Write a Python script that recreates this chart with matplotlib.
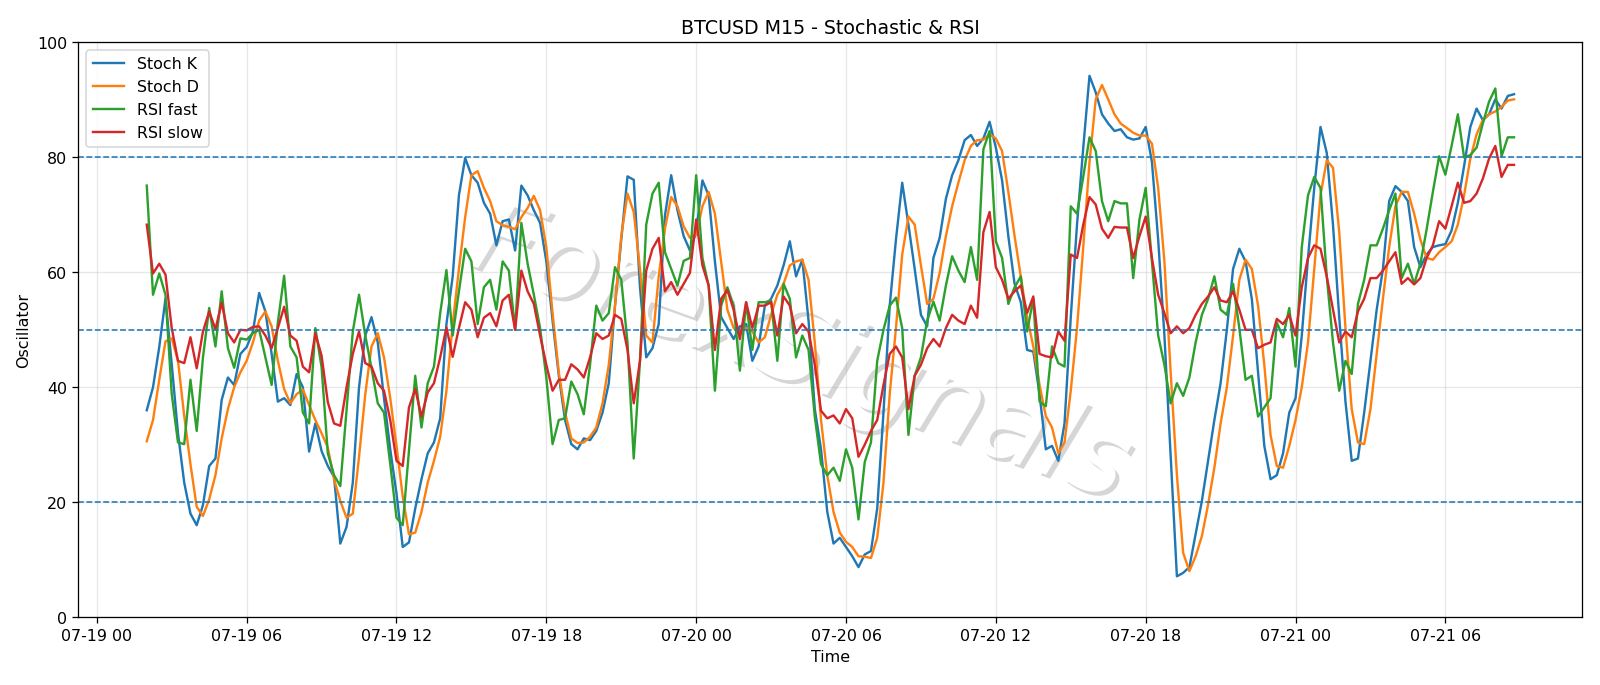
"""
BTCUSD M15 oscillators: Stochastic K/D and fast/slow RSI with watermark.
"""

import numpy as np
import pandas as pd
import matplotlib
matplotlib.use('Agg')
import matplotlib.pyplot as plt
import matplotlib.dates as mdates
import matplotlib.patheffects as pe

# ---------------------------------------------------------------------------
# Data (15 min bars, 07-19 02:00 -> 07-21 08:45)
# ---------------------------------------------------------------------------

START = '2024-07-19 02:00'
N_BARS = 220

STOCH_K = [
    36.0, 40.0, 47.0, 55.4, 44.0, 32.0, 23.4, 18.0, 16.0, 19.5,
    26.3, 27.6, 37.8, 41.7, 40.4, 45.8, 47.0, 49.7, 56.4, 53.2,
    45.8, 37.5, 38.1, 36.9, 42.3, 40.0, 28.8, 33.7, 28.9, 26.3,
    24.4, 12.8, 15.7, 23.4, 40.0, 49.0, 52.2, 47.8, 38.1, 29.2,
    21.5, 12.2, 13.0, 18.9, 24.0, 28.5, 30.4, 34.6, 51.0, 59.3,
    73.4, 79.9, 76.9, 75.6, 72.1, 70.2, 64.7, 68.9, 69.2, 63.8,
    75.1, 73.4, 70.8, 68.6, 61.9, 51.6, 42.0, 34.3, 30.1, 29.2,
    31.1, 30.8, 32.4, 35.6, 40.7, 54.2, 65.7, 76.7, 76.1, 57.4,
    45.2, 46.8, 51.0, 69.9, 76.9, 70.8, 66.3, 63.8, 67.0, 76.0,
    73.4, 61.9, 52.2, 50.3, 48.4, 50.6, 51.0, 44.6, 47.1, 54.2,
    55.4, 57.7, 61.2, 65.4, 59.3, 62.2, 51.6, 36.2, 29.2, 18.3,
    12.8, 13.8, 12.2, 10.6, 8.7, 10.9, 11.5, 18.9, 35.6, 54.2,
    65.7, 75.6, 68.3, 60.6, 52.6, 50.6, 62.5, 66.0, 72.8, 76.9,
    79.5, 83.0, 83.9, 82.0, 83.3, 86.2, 81.7, 76.0, 66.3, 58.0,
    54.8, 46.5, 46.2, 38.8, 29.2, 29.8, 27.2, 33.7, 52.2, 68.3,
    81.7, 94.2, 91.3, 87.5, 85.9, 84.6, 84.9, 83.5, 83.1, 83.3,
    85.3, 79.2, 65.7, 49.0, 27.9, 7.1, 7.7, 8.7, 14.4, 20.2,
    27.2, 34.3, 40.7, 50.0, 60.6, 64.1, 61.9, 55.4, 42.6, 29.8,
    24.0, 24.7, 28.5, 35.6, 38.1, 49.0, 62.5, 74.7, 85.3, 80.8,
    68.3, 52.2, 37.5, 27.2, 27.6, 35.6, 44.6, 53.5, 60.6, 72.4,
    75.0, 74.0, 72.4, 64.4, 60.9, 63.1, 64.4, 64.7, 64.9, 67.3,
    72.1, 78.5, 85.3, 88.5, 86.5, 87.5, 90.1, 88.5, 90.7, 91.0,
]

STOCH_D = [
    30.6, 34.3, 41.3, 48.0, 48.5, 44.6, 35.0, 26.6, 19.2, 17.6,
    20.5, 24.7, 31.1, 36.2, 40.0, 42.6, 44.6, 47.8, 51.6, 53.2,
    50.6, 44.6, 39.7, 37.2, 38.8, 39.6, 36.9, 34.3, 32.0, 29.5,
    24.0, 20.2, 17.3, 18.0, 27.9, 38.8, 47.1, 49.4, 45.2, 38.1,
    29.8, 21.0, 14.4, 14.7, 18.3, 23.4, 27.2, 31.4, 39.4, 51.0,
    60.6, 69.6, 76.9, 77.6, 74.7, 72.4, 68.9, 68.2, 67.9, 67.5,
    69.6, 71.2, 73.3, 70.8, 64.4, 52.9, 42.6, 35.6, 31.1, 30.3,
    30.4, 31.4, 33.0, 37.2, 43.9, 54.2, 66.3, 73.7, 70.5, 60.6,
    49.0, 47.8, 59.3, 67.6, 73.1, 71.5, 68.0, 66.0, 66.5, 71.5,
    74.0, 70.2, 61.9, 53.5, 50.3, 49.7, 50.3, 49.7, 47.8, 48.7,
    52.6, 56.1, 58.0, 61.2, 61.9, 62.2, 58.7, 47.8, 34.3, 24.7,
    18.3, 14.7, 13.1, 12.2, 10.6, 10.5, 10.3, 13.8, 23.4, 38.8,
    50.3, 63.1, 69.7, 68.3, 61.2, 54.5, 55.4, 59.9, 66.3, 71.5,
    75.6, 79.5, 82.0, 83.0, 83.1, 84.0, 83.3, 81.1, 74.0, 66.3,
    59.3, 52.2, 47.1, 40.4, 35.0, 33.0, 28.5, 30.4, 39.4, 50.3,
    64.4, 79.2, 90.1, 92.6, 90.1, 87.5, 85.9, 85.1, 84.3, 83.8,
    83.8, 82.4, 74.7, 61.9, 42.6, 24.7, 11.2, 8.0, 10.6, 14.1,
    19.6, 26.0, 33.7, 40.0, 49.0, 58.7, 62.2, 60.6, 54.2, 43.9,
    31.7, 26.3, 26.0, 29.8, 34.3, 40.0, 47.8, 60.6, 73.4, 79.5,
    78.2, 67.0, 50.3, 36.2, 30.4, 30.1, 36.2, 45.8, 55.4, 64.4,
    71.5, 74.0, 74.0, 70.2, 65.7, 62.5, 62.2, 63.5, 64.4, 65.4,
    68.3, 73.4, 79.8, 84.0, 86.5, 87.5, 88.0, 88.8, 89.9, 90.1,
]

RSI_FAST = [
    75.1, 56.1, 59.8, 56.1, 38.8, 30.4, 30.1, 41.3, 32.4, 45.2,
    53.8, 47.1, 56.7, 46.8, 43.4, 48.5, 48.3, 49.4, 50.0, 45.2,
    40.4, 51.3, 59.4, 47.1, 45.2, 35.6, 33.7, 50.3, 43.5, 28.5,
    24.7, 22.8, 36.0, 49.7, 56.1, 49.0, 43.3, 37.2, 35.6, 26.6,
    17.3, 16.0, 29.0, 42.0, 33.0, 40.7, 43.6, 52.9, 60.4, 49.0,
    56.7, 64.1, 61.9, 51.0, 57.4, 58.7, 53.5, 61.9, 60.3, 50.0,
    68.6, 61.5, 56.1, 50.3, 41.7, 30.1, 34.3, 34.6, 41.0, 38.8,
    35.3, 43.9, 54.2, 51.6, 52.9, 60.9, 58.7, 47.8, 27.6, 44.6,
    68.3, 73.7, 75.6, 63.5, 60.6, 57.7, 62.0, 62.5, 76.9, 62.5,
    57.7, 39.4, 54.2, 57.4, 54.2, 42.9, 54.8, 46.5, 54.8, 54.8,
    55.1, 44.6, 58.0, 55.4, 45.2, 49.0, 46.5, 34.9, 26.6, 24.7,
    26.0, 23.7, 29.2, 26.0, 17.0, 27.0, 30.4, 44.6, 50.0, 54.2,
    55.6, 50.3, 31.7, 42.0, 45.2, 51.6, 54.9, 51.6, 57.7, 62.8,
    60.3, 58.3, 64.4, 58.7, 81.4, 84.6, 65.4, 62.5, 54.5, 57.4,
    59.3, 49.7, 55.4, 37.5, 36.7, 47.1, 44.2, 43.6, 71.5, 70.2,
    76.6, 83.5, 81.1, 72.4, 68.9, 72.4, 72.0, 72.0, 59.0, 69.2,
    74.7, 61.9, 49.0, 43.9, 37.2, 40.7, 38.5, 41.7, 47.8, 52.6,
    55.4, 59.3, 53.5, 52.6, 58.0, 50.3, 41.3, 42.0, 34.9, 36.5,
    38.1, 51.3, 48.7, 53.8, 43.6, 64.4, 73.4, 76.6, 74.7, 59.3,
    47.8, 39.4, 44.6, 42.3, 54.5, 58.7, 64.7, 64.7, 67.6, 70.8,
    73.7, 59.0, 61.5, 58.0, 61.5, 67.5, 74.0, 80.2, 77.0, 82.0,
    87.5, 80.0, 80.4, 81.7, 85.9, 89.7, 92.0, 80.2, 83.5, 83.5,
]

RSI_SLOW = [
    68.3, 59.8, 61.5, 59.6, 50.3, 44.6, 44.2, 48.7, 43.3, 49.7,
    53.2, 50.1, 54.7, 49.4, 47.8, 50.0, 49.9, 50.5, 50.6, 49.0,
    46.8, 50.3, 54.0, 49.0, 48.1, 43.6, 42.6, 49.4, 45.5, 37.4,
    33.7, 33.3, 40.0, 45.8, 49.7, 44.2, 43.6, 40.7, 39.4, 34.3,
    27.2, 26.3, 36.5, 39.7, 34.9, 39.1, 40.7, 45.2, 50.4, 45.3,
    50.3, 54.8, 53.5, 48.7, 52.1, 52.9, 50.6, 55.1, 56.1, 50.0,
    60.3, 56.7, 54.5, 49.0, 43.9, 39.4, 41.3, 41.3, 44.0, 43.1,
    41.7, 45.2, 49.4, 48.4, 49.0, 52.6, 51.9, 46.5, 37.2, 44.6,
    60.3, 64.1, 66.0, 56.7, 58.3, 56.1, 58.0, 59.9, 69.2, 61.2,
    57.7, 46.5, 55.4, 56.9, 53.5, 48.4, 54.8, 50.3, 54.2, 54.2,
    54.8, 49.0, 55.8, 54.2, 49.4, 51.0, 49.7, 43.9, 35.9, 34.6,
    35.1, 33.7, 36.2, 34.6, 27.9, 30.0, 32.4, 34.3, 40.4, 45.8,
    47.1, 45.2, 36.2, 42.0, 43.9, 46.8, 48.4, 47.1, 50.3, 52.6,
    51.6, 51.0, 54.2, 52.1, 67.0, 70.5, 60.9, 58.7, 55.4, 56.7,
    57.7, 52.9, 55.8, 45.8, 45.4, 45.2, 49.7, 48.1, 63.1, 62.5,
    68.3, 73.1, 71.8, 67.6, 66.0, 67.9, 67.8, 67.8, 62.5, 66.3,
    69.7, 62.5, 56.1, 52.9, 49.4, 50.6, 49.4, 50.3, 52.6, 54.5,
    55.8, 57.4, 55.1, 54.8, 56.7, 53.5, 50.0, 50.0, 46.8, 47.4,
    47.8, 51.9, 51.0, 52.6, 49.0, 57.4, 62.5, 64.7, 64.1, 59.3,
    53.5, 47.8, 49.7, 48.7, 53.2, 55.4, 59.0, 59.0, 60.3, 61.9,
    63.5, 58.0, 59.0, 57.9, 59.0, 62.5, 64.7, 68.9, 67.6, 71.5,
    75.6, 72.1, 72.4, 73.7, 76.3, 79.8, 82.0, 76.6, 78.7, 78.7,
]

LEVELS = [80, 50, 20]
WATERMARK = 'ForexSignals'


def main():
    t = pd.date_range(START, periods=N_BARS, freq='15min')

    fig, ax = plt.subplots(figsize=(14, 6), dpi=1600 / 14)
    fig.subplots_adjust(left=0.049, right=0.989, top=0.937, bottom=0.099)

    ax.plot(t, STOCH_K, label='Stoch K', linewidth=1.5)
    ax.plot(t, STOCH_D, label='Stoch D', linewidth=1.5)
    ax.plot(t, RSI_FAST, label='RSI fast', linewidth=1.5)
    ax.plot(t, RSI_SLOW, label='RSI slow', linewidth=1.5)

    for lvl in LEVELS:
        ax.axhline(lvl, color='#1f77b4', linestyle='--', linewidth=1.0)

    # watermark: white italic letters, only the offset shadow shows
    ax.text(0.48, 0.46, WATERMARK, transform=ax.transAxes,
            fontsize=68, style='italic', color='white',
            rotation=-20, ha='center', va='center', zorder=0,
            path_effects=[pe.withSimplePatchShadow(offset=(2.5, -2.5),
                                                   shadow_rgbFace='#8a8a8a',
                                                   alpha=0.35)])

    ax.set_ylim(0, 100)
    ax.xaxis.set_major_locator(mdates.HourLocator(byhour=[0, 6, 12, 18]))
    ax.xaxis.set_major_formatter(mdates.DateFormatter('%m-%d %H'))
    ax.set_xlabel('Time')
    ax.set_ylabel('Oscillator')
    ax.set_title('BTCUSD M15 - Stochastic & RSI')
    ax.legend(loc='upper left')
    ax.grid(alpha=0.3)

    fig.savefig('out.png')
    plt.close(fig)


if __name__ == '__main__':
    main()
